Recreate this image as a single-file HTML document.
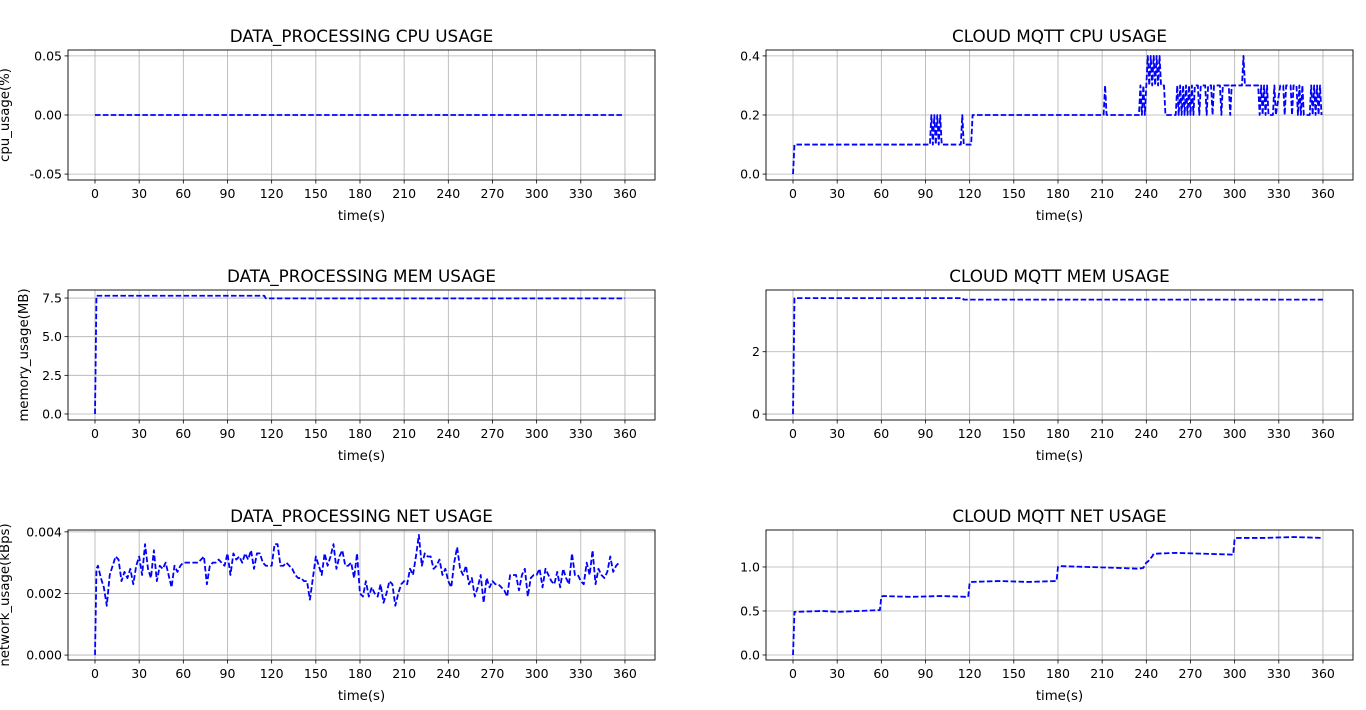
<!DOCTYPE html>
<html><head><meta charset="utf-8"><style>
body{margin:0;background:#fff;}
svg{display:block;font-family:"DejaVu Sans","Liberation Sans",sans-serif;}
</style></head><body>
<svg id="fig" width="1366" height="710" xmlns="http://www.w3.org/2000/svg"></svg>
<script>
// ---- data ----
const xTicks = [0,30,60,90,120,150,180,210,240,270,300,330,360];
const dpCpuT = [0,358];
const dpCpuV = [0,0];
const dpMemT = [0,1,115,116,360];
const dpMemV = [0,7.65,7.65,7.48,7.48];
const dpNetV = [0,2.8,2.9,2.5,2.2,1.6,2.6,2.9,3.2,3.1,2.4,2.7,2.5,2.8,2.3,2.9,
 3.2,2.6,3.6,2.8,2.5,3.4,2.4,2.9,2.8,3.0,2.6,2.2,2.9,2.7,2.9,
 3.0,3.0,3.0,3.0,3.0,3.0,3.1,3.2,2.3,2.9,3.0,3.0,3.1,3.0,2.9,
 3.3,2.6,3.3,3.1,3.2,3.0,3.3,3.1,3.4,2.8,3.3,3.3,3.0,2.9,2.9,
 2.9,3.6,3.6,2.9,2.9,3.0,2.9,2.8,2.6,2.5,2.5,2.4,2.4,1.8,2.5,
 3.2,2.9,2.6,3.3,2.9,3.2,3.6,2.8,3.2,3.4,2.9,2.9,3.0,2.5,3.3,
 2.0,1.9,2.4,1.9,2.2,2.0,1.9,2.3,1.7,2.0,2.4,2.3,1.6,2.0,2.3,
 2.4,2.3,2.8,2.6,3.2,3.9,2.9,3.3,3.2,3.2,2.8,2.9,3.1,2.6,2.8,
 2.4,2.2,3.0,3.5,2.8,2.6,2.9,2.3,2.5,1.9,2.2,2.6,1.7,2.5,2.2,
 2.4,2.3,2.3,2.2,2.1,1.9,2.6,2.6,2.6,2.1,2.6,2.8,1.9,2.5,2.6,
 2.6,2.8,2.2,2.8,2.6,2.4,2.3,2.7,2.2,2.8,2.5,2.3,3.3,2.6,2.6,
 2.4,2.3,3.0,2.6,3.4,2.3,2.8,2.6,2.5,2.7,3.2,2.7,2.9,3.0];
const mqCpuPairs = [0,0,1,0.1,93,0.1,94,0.2,95,0.1,96,0.2,97,0.1,98,0.2,99,0.1,100,0.2,101,0.1,114,0.1,115,0.2,116,0.1,121,0.1,122,0.2,211,0.2,212,0.3,213,0.2,235,0.2,236,0.3,237,0.2,238,0.3,239,0.2,240,0.3,241,0.4,242,0.3,243,0.4,244,0.3,245,0.4,246,0.3,247,0.4,248,0.3,249,0.4,250,0.3,252,0.3,253,0.2,260,0.2,261,0.3,262,0.2,263,0.3,264,0.2,265,0.3,266,0.2,267,0.3,268,0.2,269,0.3,270,0.2,271,0.3,272,0.2,273,0.3,275,0.3,276,0.2,277,0.3,280,0.3,281,0.2,282,0.3,284,0.3,285,0.2,286,0.3,290,0.3,291,0.2,292,0.3,296,0.3,297,0.2,298,0.3,305,0.3,306,0.4,307,0.3,316,0.3,317,0.2,318,0.3,319,0.2,320,0.3,321,0.2,322,0.3,323,0.2,326,0.2,327,0.3,328,0.2,331,0.3,333,0.3,334,0.2,335,0.3,338,0.3,339,0.2,340,0.3,342,0.3,343,0.2,344,0.3,345,0.2,346,0.3,347,0.2,351,0.2,352,0.3,353,0.2,354,0.3,355,0.2,356,0.3,357,0.2,358,0.3,359,0.2];
const mqMemT = [0,1,115,116,360];
const mqMemV = [0,3.72,3.72,3.67,3.67];
const mqNetT = [0,1,20,30,45,59,60,61,80,100,119,120,121,140,160,179,180,181,200,220,235,238,240,241,244,245,260,280,299,300,301,320,340,360];
const mqNetV = [0,0.49,0.5,0.49,0.5,0.51,0.66,0.67,0.66,0.67,0.66,0.82,0.83,0.84,0.83,0.84,1.0,1.01,1.0,0.99,0.98,0.99,1.05,1.06,1.12,1.15,1.16,1.15,1.14,1.32,1.33,1.33,1.34,1.33];

const NS="http://www.w3.org/2000/svg";
const fig=document.getElementById('fig');
function mk(tag,attrs,parent){const e=document.createElementNS(NS,tag);for(const k in attrs)e.setAttribute(k,attrs[k]);(parent||fig).appendChild(e);return e;}

function plot(cfg){
  const L=cfg.x0,T=cfg.y0,W=587,H=130,xmin=-18.34,xmax=380.4;
  const g=mk('g',{});
  
  
  const sx=v=>L+(v-xmin)/(xmax-xmin)*W;
  const sy=v=>T+H-(v-cfg.ylim[0])/(cfg.ylim[1]-cfg.ylim[0])*H;
  xTicks.forEach(t=>{mk('line',{x1:sx(t),x2:sx(t),y1:T,y2:T+H,stroke:'#b0b0b0','stroke-width':0.8},g);
    mk('line',{x1:sx(t),x2:sx(t),y1:T+H,y2:T+H+3.5,stroke:'#000','stroke-width':0.8},g);
    const tx=mk('text',{x:sx(t),y:T+H+18,'text-anchor':'middle','font-size':12.5},g);tx.textContent=t;});
  cfg.yt.forEach((t,i)=>{mk('line',{x1:L,x2:L+W,y1:sy(t),y2:sy(t),stroke:'#b0b0b0','stroke-width':0.8},g);
    mk('line',{x1:L-3.5,x2:L,y1:sy(t),y2:sy(t),stroke:'#000','stroke-width':0.8},g);
    const tx=mk('text',{x:L-6,y:sy(t)+4.5,'text-anchor':'end','font-size':12.5},g);tx.textContent=cfg.yl[i];});
  let d='';
  for(let i=0;i<cfg.t.length;i++){d+=(i?'L':'M')+sx(cfg.t[i]).toFixed(2)+' '+sy(cfg.v[i]).toFixed(2);}
  const p=mk('path',{d:d,fill:'none',stroke:'#0000ff','stroke-width':1.8,'stroke-dasharray':'5.5 2.4','stroke-linejoin':'round'},g);
  
  
  mk('rect',{x:L,y:T,width:W,height:H,fill:'none',stroke:'#000','stroke-width':0.9},g);
  const ti=mk('text',{x:L+W/2,y:T-8,'text-anchor':'middle','font-size':16.8},g);ti.textContent=cfg.title;
  const xl=mk('text',{x:L+W/2,y:T+H+40,'text-anchor':'middle','font-size':13.3},g);xl.textContent='time(s)';
  if(cfg.ylab){const yl=mk('text',{x:0,y:0,'text-anchor':'middle','font-size':13.3,transform:`translate(${cfg.ylx},${T+H/2}) rotate(-90)`},g);yl.textContent=cfg.ylab;}
}
const netT=dpNetV.map((_,i)=>i===0?0:(i===1?1:(i-1)*2));
const mqCpuT=mqCpuPairs.filter((_,i)=>i%2===0), mqCpuV=mqCpuPairs.filter((_,i)=>i%2===1);

plot({name:'dp-cpu-chart',x0:68,y0:50,ylim:[-0.055,0.055],yt:[-0.05,0,0.05],yl:['-0.05','0.00','0.05'],t:dpCpuT,v:dpCpuV,title:'DATA_PROCESSING CPU USAGE',ylab:'cpu_usage(%)',ylx:9});
plot({name:'mqtt-cpu-chart',x0:766,y0:50,ylim:[-0.02,0.42],yt:[0,0.2,0.4],yl:['0.0','0.2','0.4'],t:mqCpuT,v:mqCpuV,title:'CLOUD MQTT CPU USAGE'});
plot({name:'dp-mem-chart',x0:68,y0:290,ylim:[-0.39,8.02],yt:[0,2.5,5,7.5],yl:['0.0','2.5','5.0','7.5'],t:dpMemT,v:dpMemV,title:'DATA_PROCESSING MEM USAGE',ylab:'memory_usage(MB)',ylx:28});
plot({name:'mqtt-mem-chart',x0:766,y0:290,ylim:[-0.19,3.98],yt:[0,2],yl:['0','2'],t:mqMemT,v:mqMemV,title:'CLOUD MQTT MEM USAGE'});
plot({name:'dp-net-chart',x0:68,y0:530,ylim:[-0.16,4.06],yt:[0,2,4],yl:['0.000','0.002','0.004'],t:netT,v:dpNetV,title:'DATA_PROCESSING NET USAGE',ylab:'network_usage(kBps)',ylx:9});
plot({name:'mqtt-net-chart',x0:766,y0:530,ylim:[-0.057,1.42],yt:[0,0.5,1.0],yl:['0.0','0.5','1.0'],t:mqNetT,v:mqNetV,title:'CLOUD MQTT NET USAGE'});
</script>
</body></html>
